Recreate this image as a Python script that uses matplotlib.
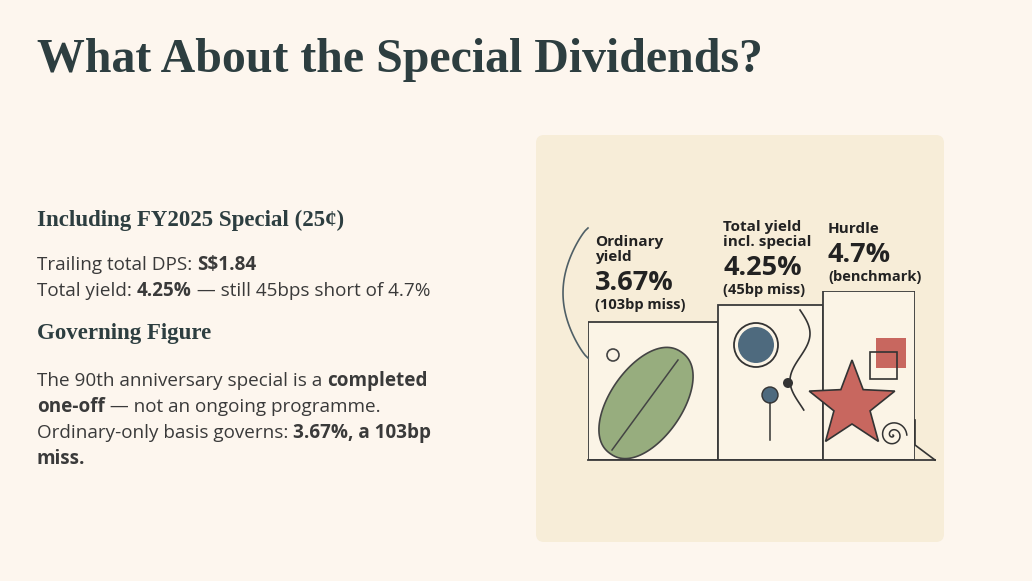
import matplotlib
matplotlib.use("Agg")
import matplotlib.pyplot as plt
import numpy as np
from matplotlib.patches import FancyBboxPatch, Circle, Rectangle, Polygon

labels = ["Ordinary\nyield", "Total yield\nincl. special", "Hurdle"]
values = [3.67, 4.25, 4.7]
value_text = ["3.67%", "4.25%", "4.7%"]
notes = ["(103bp miss)", "(45bp miss)", "(benchmark)"]
panel_widths = [130, 105, 92]

W, H = 1032, 581
BG = "#FDF6EE"; DARK = "#2D3E40"; INK = "#3A3A3A"
fig = plt.figure(figsize=(W/100, H/100), dpi=100, facecolor=BG)
ov = fig.add_axes([0, 0, 1, 1]); ov.set_xlim(0, W); ov.set_ylim(H, 0); ov.axis("off")
SERIF = ["Liberation Serif", "DejaVu Serif"]; SANS = ["Open Sans", "DejaVu Sans"]
r = fig.canvas.get_renderer()

ov.text(37, 60, "What About the Special Dividends?", fontsize=34.5, fontweight="bold",
        family=SERIF, color=DARK, va="center")
ov.text(37, 220, "Including FY2025 Special (25¢)", fontsize=16.5, fontweight="bold", family=SERIF, color=DARK, va="center")
ov.text(37, 334, "Governing Figure", fontsize=16.5, fontweight="bold", family=SERIF, color=DARK, va="center")

def rich(x, y, parts, fs=13.6):
    for s, b in parts:
        t = ov.text(x, y, s, fontsize=fs, family=SANS, fontweight="bold" if b else "normal", color=INK, va="center")
        x += t.get_window_extent(renderer=r).width

rich(37, 265, [("Trailing total DPS: ", False), ("S$1.84", True)])
rich(37, 291, [("Total yield: ", False), ("4.25%", True), (" — still 45bps short of 4.7%", False)])
lines = [[("The 90th anniversary special is a ", False), ("completed", True)],
         [("one-off", True), (" — not an ongoing programme.", False)],
         [("Ordinary-only basis governs: ", False), ("3.67%, a 103bp", True)],
         [("miss.", True)]]
for i, ln in enumerate(lines):
    rich(37, 381 + i*26, ln)

ov.add_patch(FancyBboxPatch((536, 135), 408, 407, boxstyle="round,pad=0,rounding_size=8",
                            fc="#F7EDD8", ec="none"))

L = -0.93
x0, x1 = 588, 588 + sum(panel_widths)
bax = fig.add_axes([x0/W, 1-460/H, (x1-x0)/W, (460-291)/H])
bax.set_xlim(0, sum(panel_widths)); bax.set_ylim(L, 4.7); bax.axis("off")
lefts = np.cumsum([0] + panel_widths[:-1])
bax.bar(lefts, [v - L for v in values], width=panel_widths, bottom=L, align="edge",
        fc="#FBF4E6", ec="#3A3A3A", lw=1.3)

top = fig.add_axes([0, 0, 1, 1]); top.set_xlim(0, W); top.set_ylim(H, 0); top.axis("off")
top.patch.set_alpha(0)
top.plot([588, 935], [460, 460], color="#3A3A3A", lw=1.3)

lab_x = [595, 723, 828]
num_y = [283, 268, 255]
for i in range(3):
    top.text(lab_x[i], num_y[i]-19, labels[i], fontsize=11, fontweight="bold",
             family=SANS, color="#222", va="bottom", linespacing=1.1)
    top.text(lab_x[i], num_y[i], value_text[i], fontsize=19.5, fontweight="bold", family=SANS, color="#222", va="center")
    top.text(lab_x[i], num_y[i]+22, notes[i], fontsize=10.5, fontweight="bold", family=SANS, color="#222", va="center")

t = np.linspace(0, 1, 50)
top.plot(588 - 25*np.sin(np.pi*t)**0.8, 228 + 130*t, color="#4F5F66", lw=1.2)
tt = np.linspace(0, np.pi, 60)
cx, cy, ang = 646, 403, np.deg2rad(-55)
lx = 62*np.cos(tt); ly = 36*np.sin(tt)**0.9
pts = np.column_stack([np.r_[lx, lx[::-1]], np.r_[ly, -ly[::-1]]])
R = np.array([[np.cos(ang), -np.sin(ang)], [np.sin(ang), np.cos(ang)]])
pts = pts @ R.T + [cx, cy]
top.add_patch(Polygon(pts, fc="#97AD7E", ec="#444", lw=1.2))
top.plot([612, 678], [450, 360], color="#444", lw=1.1)
top.add_patch(Circle((613, 355), 6, fc="none", ec="#444", lw=1.2))
top.add_patch(Circle((756, 345), 22, fc="none", ec="#333", lw=1.3))
top.add_patch(Circle((756, 345), 18, fc="#4E6A7E", ec="none"))
top.add_patch(Circle((770, 395), 8, fc="#4E6A7E", ec="#333", lw=1))
top.add_patch(Circle((788, 383), 5, fc="#333", ec="none"))
wy = np.linspace(310, 410, 80)
top.plot(800 + 10*np.sin((wy-310)/15), wy, color="#333", lw=1.2)
top.plot([770, 770], [403, 440], color="#333", lw=1.1)
top.add_patch(Rectangle((876, 338), 30, 30, fc="#C8675F", ec="none"))
top.add_patch(Rectangle((870, 352), 27, 27, fc="none", ec="#333", lw=1.2, zorder=3))
a = np.linspace(-np.pi/2, 1.5*np.pi, 11)[:-1]
rr = np.where(np.arange(10) % 2 == 0, 45, 19)
star = np.column_stack([852 + rr*np.cos(a), 405 + rr*np.sin(a)])
top.add_patch(Polygon(star, fc="#C8675F", ec="#333", lw=1.2, zorder=4))
th = np.linspace(0, 4*np.pi, 150)
top.plot(893 + 1.1*th*np.cos(th), 435 + 1.1*th*np.sin(th), color="#333", lw=1.1)
top.plot([915, 915, 935], [420, 445, 460], color="#333", lw=1.2)

fig.savefig("out.png", dpi=100, facecolor=BG)
